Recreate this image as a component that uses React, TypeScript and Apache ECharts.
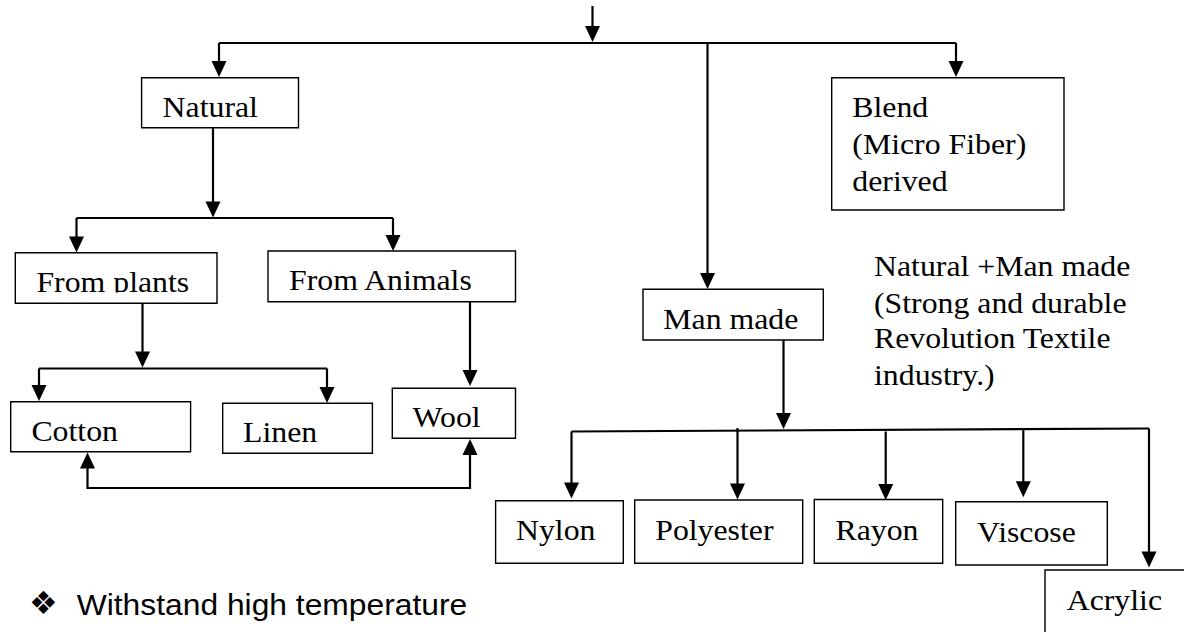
import React, { useEffect, useRef } from "react";
import * as echarts from "echarts";

// ---- content (texts of the diagram) ----
const NODE_LABELS: string[] = [
  "Natural",
  "From plants",
  "From Animals",
  "Man made",
  "Cotton",
  "Linen",
  "Wool",
  "Nylon",
  "Polyester",
  "Rayon",
  "Viscose",
  "Acrylic",
];
const BLEND_LINES: string[] = ["Blend", "(Micro Fiber)", "derived"];
const NOTE_LINES: string[] = [
  "Natural +Man made",
  "(Strong and durable",
  "Revolution Textile",
  "industry.)",
];
const BULLET_MARK = "❖";
const BULLET_TEXT = "Withstand high temperature";

// ---- layout (pixel positions of the diagram) ----
// box: [x0, y0, x1, y1], text: [left, baseline]
const NODE_BOXES: number[][] = [
  [141.6, 77.7, 298.5, 127.7],
  [15.3, 252.7, 217, 303.3],
  [268, 251, 515.5, 301.7],
  [643, 289.3, 823.3, 340],
  [10.7, 401.7, 190.6, 451.7],
  [222.7, 403.3, 372.4, 453.3],
  [392.3, 388.3, 515.5, 438.3],
  [495.6, 500.7, 623.3, 563.3],
  [634.7, 500, 802.7, 563.3],
  [814.3, 499.5, 942.7, 563.3],
  [955.7, 501.7, 1107.3, 565],
  [1045, 570, 1200, 650],
];
const NODE_TEXT_POS: number[][] = [
  [162.6, 116.7],
  [36.4, 291.7],
  [289, 290],
  [663.3, 329.3],
  [31.4, 440.7],
  [243, 442.3],
  [412.6, 426.7],
  [516, 540],
  [655.2, 540],
  [835.5, 540],
  [977.1, 541.7],
  [1066.7, 610],
];
const BLEND_BOX = [831.7, 77.7, 1064, 210];
const BLEND_TEXT_X = 852.3;
const BLEND_BASELINES = [117.3, 154.3, 191.3];
const NOTE_X = 874;
const NOTE_BASELINES = [276, 312.7, 348.3, 385];

// connector polylines
const LINES: number[][][] = [
  [[592.5, 6], [592.5, 36]],
  [[219, 43], [956, 43]],
  [[219, 43], [219, 72]],
  [[956, 43], [956, 72]],
  [[707.5, 43], [707.5, 284]],
  [[213, 128], [213, 212]],
  [[76.5, 218], [393, 218]],
  [[76.5, 218], [76.5, 247]],
  [[393, 218], [393, 245]],
  [[142.5, 303.3], [142.5, 362]],
  [[39, 368.5], [327, 368.5]],
  [[39, 368.5], [39, 396]],
  [[327, 368.5], [327, 398]],
  [[470, 301.7], [470, 381]],
  [[87.5, 458], [87.5, 488], [470, 488], [470, 445]],
  [[783.5, 340], [783.5, 424]],
  [[571.5, 431.5], [1149, 428.5]],
  [[571.5, 431.5], [571.5, 493]],
  [[737.5, 428], [737.5, 494]],
  [[885.7, 431.5], [885.7, 495]],
  [[1023.3, 429], [1023.3, 492]],
  [[1149, 428.5], [1149, 562]],
];
// arrow heads: [x, tipY, direction (1 = down, -1 = up)]
const ARROWS: number[][] = [
  [592.5, 42, 1],
  [219, 77, 1],
  [956, 77, 1],
  [707.5, 289, 1],
  [213, 217.5, 1],
  [76.5, 252.5, 1],
  [393, 251, 1],
  [142.5, 367.5, 1],
  [39, 401, 1],
  [327, 403, 1],
  [470, 386, 1],
  [87.5, 452.5, -1],
  [470, 439, -1],
  [783.5, 429, 1],
  [571.5, 498.5, 1],
  [737.5, 499.5, 1],
  [885.7, 500, 1],
  [1023.3, 497.3, 1],
  [1149, 567.5, 1],
];

const SERIF = '"Liberation Serif", "Times New Roman", serif';
const SANS = '"Liberation Sans", Arial, sans-serif';
const FS = 30;
const SX = 1.06;

function textEl(text: string, x: number, baseline: number, family: string, central: number, z = 10) {
  return {
    type: "text",
    x,
    y: baseline - central * FS,
    scaleX: SX,
    z,
    style: {
      text,
      x: 0,
      y: 0,
      fontSize: FS,
      fontFamily: family,
      fill: "#000",
      align: "left",
      verticalAlign: "middle",
      textAlign: "left",
      textVerticalAlign: "middle",
    },
  };
}

function rectEl(b: number[]) {
  return {
    type: "rect",
    z: 5,
    shape: { x: b[0], y: b[1], width: b[2] - b[0], height: b[3] - b[1] },
    style: { fill: "#fff", stroke: "#000", lineWidth: 1.4 },
  };
}

export default function App() {
  const ref = useRef<HTMLDivElement>(null);
  useEffect(() => {
    document.body.style.margin = "0";
    const chart = echarts.init(ref.current!, undefined, { renderer: "svg" });
    const elements: any[] = [];

    LINES.forEach((pts) => {
      elements.push({
        type: "polyline",
        z: 3,
        shape: { points: pts },
        style: { stroke: "#000", lineWidth: 2.2, fill: null },
      });
    });
    ARROWS.forEach(([x, tip, dir]) => {
      const base = tip - dir * 16;
      elements.push({
        type: "polygon",
        z: 6,
        shape: { points: [[x, tip], [x - 7.5, base], [x + 7.5, base]] },
        style: { fill: "#000" },
      });
    });

    NODE_BOXES.forEach((b) => elements.push(rectEl(b)));
    elements.push(rectEl(BLEND_BOX));

    NODE_LABELS.forEach((label, i) => {
      const [x, bl] = NODE_TEXT_POS[i];
      elements.push(textEl(label, x, bl, SERIF, 0.3375));
    });
    // descenders of "From plants" are cut off in the source
    elements.push({
      type: "rect",
      z: 11,
      shape: { x: 30, y: 292.6, width: 180, height: 9.5 },
      style: { fill: "#fff" },
    });

    BLEND_LINES.forEach((t, i) => elements.push(textEl(t, BLEND_TEXT_X, BLEND_BASELINES[i], SERIF, 0.3375)));
    NOTE_LINES.forEach((t, i) => elements.push(textEl(t, NOTE_X, NOTE_BASELINES[i], SERIF, 0.3375)));

    elements.push({
      type: "text",
      x: 43.3,
      y: 603,
      z: 10,
      style: {
        text: BULLET_MARK,
        fontSize: 32,
        fontFamily: '"DejaVu Sans", sans-serif',
        fill: "#000",
        align: "center",
        verticalAlign: "middle",
        textAlign: "center",
        textVerticalAlign: "middle",
      },
    });
    elements.push(textEl(BULLET_TEXT, 76.7, 615, SANS, 0.3465));

    chart.setOption({
      animation: false,
      backgroundColor: "#fff",
      graphic: { elements },
    });
    return () => chart.dispose();
  }, []);
  return (
    <div
      ref={ref}
      style={{ position: "fixed", left: 0, top: 0, width: 1184, height: 632, background: "#fff" }}
    />
  );
}
